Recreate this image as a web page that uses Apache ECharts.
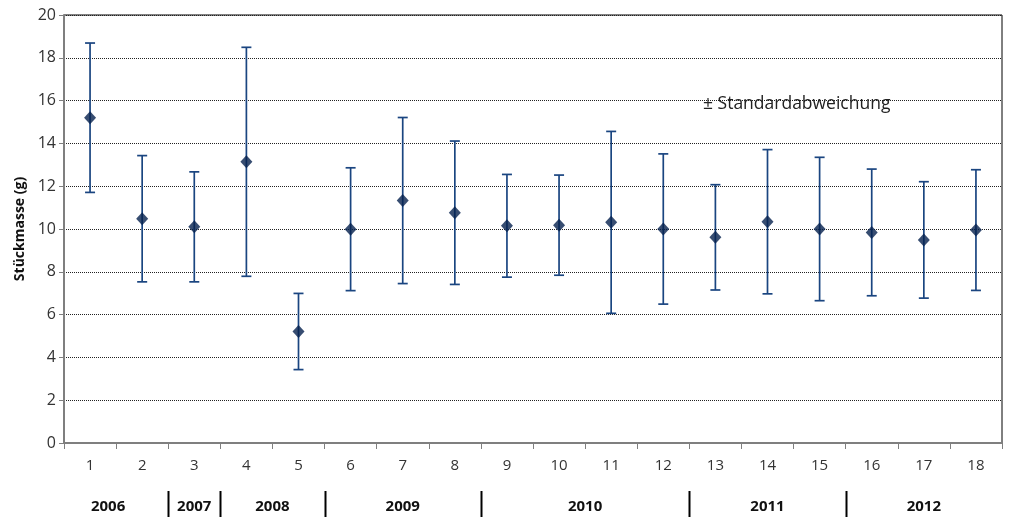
<!DOCTYPE html>
<html>
<head>
<meta charset="utf-8">
<script src="https://cdn.jsdelivr.net/npm/echarts@6/dist/echarts.min.js"></script>
<style>
  html, body { margin: 0; padding: 0; background: #fff; }
  #chart { width: 1009px; height: 517px; }
</style>
</head>
<body>
<div id="chart"></div>
<script>
// Sample numbers (x axis) and mean piece mass with standard deviation
const categories = ['1','2','3','4','5','6','7','8','9','10','11','12','13','14','15','16','17','18'];
const means = [15.2, 10.48, 10.1, 13.14, 5.21, 9.99, 11.33, 10.76, 10.15, 10.18, 10.31, 10.0, 9.61, 10.34, 10.0, 9.84, 9.49, 9.95];
const stdDevs = [3.49, 2.95, 2.57, 5.35, 1.78, 2.87, 3.88, 3.35, 2.4, 2.34, 4.25, 3.51, 2.46, 3.37, 3.35, 2.96, 2.72, 2.82];
// Year groups: label, first and last sample index (0-based)
const yearLabels = ['2006', '2007', '2008', '2009', '2010', '2011', '2012'];
const yearStart = [0, 2, 3, 5, 8, 12, 15];
const yearEnd = [1, 2, 4, 7, 11, 14, 17];
// Years that get a separator line on their left side
const separatedYears = ['2007', '2008', '2009', '2010', '2011', '2012'];

const FONT = '"Open Sans", "Noto Sans", sans-serif';
const MARK = '#05214d';
const BAR = '#1a4580';

const errorData = means.map((m, i) => [i, m - stdDevs[i], m + stdDevs[i]]);

const chart = echarts.init(document.getElementById('chart'), null, { renderer: 'canvas' });

chart.setOption({
  animation: false,
  backgroundColor: '#fff',
  grid: {
    left: 64, right: 7, top: 15, bottom: 74,
    show: true, borderColor: '#000', borderWidth: 1
  },
  xAxis: {
    type: 'category',
    data: categories,
    boundaryGap: true,
    axisLine: { lineStyle: { color: '#7f7f7f', width: 2 } },
    axisTick: { show: true, length: 6, lineStyle: { color: '#7f7f7f', width: 1 } },
    axisLabel: { color: '#333', fontSize: 15, fontFamily: FONT, margin: 15 },
    splitLine: { show: false }
  },
  yAxis: {
    type: 'value',
    min: 0, max: 20, interval: 2,
    name: 'Stückmasse (g)',
    nameLocation: 'middle',
    nameGap: 36,
    nameTextStyle: { color: '#111', fontSize: 14, fontWeight: 'bold', fontFamily: FONT },
    axisLine: { show: true, lineStyle: { color: '#7f7f7f', width: 2 } },
    axisTick: { show: true, length: 5, lineStyle: { color: '#7f7f7f' } },
    axisLabel: { color: '#333', fontSize: 16, fontFamily: FONT, margin: 8 },
    splitLine: { show: true, lineStyle: { color: '#222', type: [1, 1], width: 1 } }
  },
  series: [
    {
      type: 'custom',
      name: 'sd',
      data: errorData,
      z: 2,
      renderItem: function (params, api) {
        const x = api.value(0);
        const lo = api.coord([x, api.value(1)]);
        const hi = api.coord([x, api.value(2)]);
        const hw = 5;
        const style = { stroke: BAR, lineWidth: 1.7 };
        return {
          type: 'group',
          children: [
            { type: 'line', shape: { x1: hi[0], y1: hi[1], x2: lo[0], y2: lo[1] }, style: style },
            { type: 'line', shape: { x1: hi[0] - hw, y1: hi[1], x2: hi[0] + hw, y2: hi[1] }, style: style },
            { type: 'line', shape: { x1: lo[0] - hw, y1: lo[1], x2: lo[0] + hw, y2: lo[1] }, style: style }
          ]
        };
      }
    },
    {
      type: 'scatter',
      name: 'mean',
      data: means,
      symbol: 'diamond',
      symbolSize: [12, 13],
      z: 3,
      itemStyle: { color: MARK }
    }
  ]
});

// Year labels and group separators below the sample numbers
const graphics = [];
const half = (chart.convertToPixel({ xAxisIndex: 0 }, 1) - chart.convertToPixel({ xAxisIndex: 0 }, 0)) / 2;
yearLabels.forEach(function (year, k) {
  const x0 = chart.convertToPixel({ xAxisIndex: 0 }, yearStart[k]);
  const x1 = chart.convertToPixel({ xAxisIndex: 0 }, yearEnd[k]);
  // the first group's label sits a little left of its group centre
  const shift = k === 0 ? -8 : 0;
  graphics.push({
    type: 'text',
    x: (x0 + x1) / 2 + shift, y: 507,
    style: {
      text: year, fill: '#111', font: 'bold 15px ' + FONT,
      textAlign: 'center', textVerticalAlign: 'middle'
    }
  });
  if (separatedYears.indexOf(year) >= 0) {
    const xs = Math.round(x0 - half) + 0.5;
    graphics.push({
      type: 'line',
      shape: { x1: xs, y1: 491, x2: xs, y2: 517 },
      style: { stroke: '#000', lineWidth: 2 }
    });
  }
});
graphics.push({
  type: 'text',
  x: 703, y: 104,
  style: {
    text: '± Standardabweichung', fill: '#222', font: '17.5px ' + FONT,
    textAlign: 'left', textVerticalAlign: 'middle'
  }
});
chart.setOption({ graphic: graphics });
</script>
</body>
</html>
